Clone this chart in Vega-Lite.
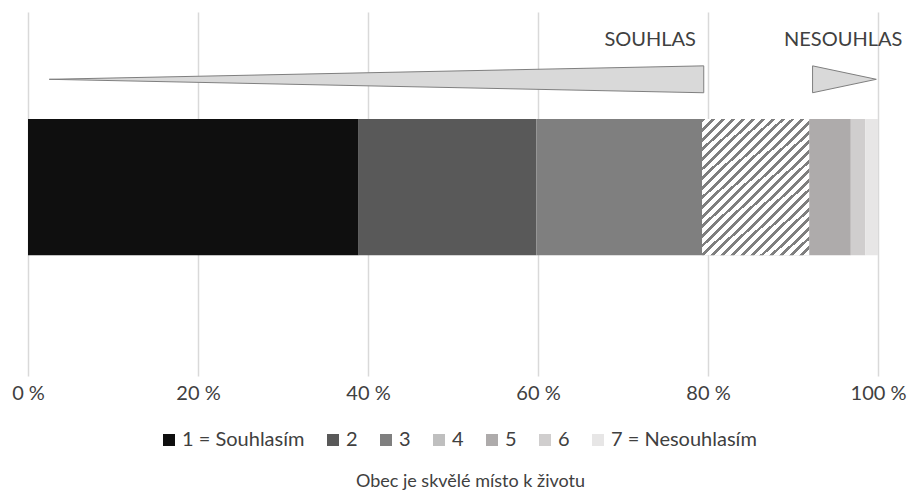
{
  "$schema": "https://vega.github.io/schema/vega-lite/v6.json",
  "width": 850,
  "height": 364,
  "autosize": {"type": "none"},
  "padding": {"left": 28, "top": 12, "right": 31, "bottom": 123},
  "config": {"view": {"stroke": null}, "font": "Lato"},
  "datasets": {
    "answers": [
      {"answer": "1 = Souhlasím", "share": 38.9, "rank": 1},
      {"answer": "2", "share": 20.9, "rank": 2},
      {"answer": "3", "share": 19.5, "rank": 3},
      {"answer": "4", "share": 12.6, "rank": 4},
      {"answer": "5", "share": 4.9, "rank": 5},
      {"answer": "6", "share": 1.7, "rank": 6},
      {"answer": "7 = Nesouhlasím", "share": 1.5, "rank": 7}
    ],
    "arrows": [
      {"arrow": "souhlas", "pct": 2.5, "lo": 17.6, "hi": 17.6},
      {"arrow": "souhlas", "pct": 79.5, "lo": 13.8, "hi": 21.4},
      {"arrow": "nesouhlas", "pct": 92.3, "lo": 13.8, "hi": 21.4},
      {"arrow": "nesouhlas", "pct": 99.8, "lo": 17.6, "hi": 17.6}
    ],
    "labels": [
      {"text": "SOUHLAS", "pct": 73.2},
      {"text": "NESOUHLAS", "pct": 95.9}
    ]
  },
  "layer": [
    {
      "data": {"name": "answers"},
      "transform": [
        {"stack": "share", "groupby": [], "sort": [{"field": "rank"}], "as": ["x0", "x1"]}
      ],
      "mark": {"type": "bar", "orient": "horizontal"},
      "encoding": {
        "x": {
          "field": "x0",
          "type": "quantitative",
          "scale": {"domain": [0, 100], "nice": false},
          "axis": {
            "values": [0, 20, 40, 60, 80, 100],
            "labelExpr": "datum.value + ' %'",
            "domain": false,
            "ticks": false,
            "grid": true,
            "gridColor": "#d9d9d9",
            "gridWidth": 1.5,
            "labelFont": "Lato",
            "labelFontSize": 20,
            "labelColor": "#404040",
            "labelPadding": 7,
            "labelFlush": false,
            "labelOverlap": false,
            "labelBound": false,
            "title": "Obec je skvělé místo k životu",
            "titleFont": "Lato",
            "titleFontSize": 18,
            "titleFontWeight": "normal",
            "titleColor": "#404040",
            "titleX": 442,
            "titleY": 105,
            "titleAlign": "center",
            "titleBaseline": "middle"
          }
        },
        "x2": {"field": "x1"},
        "y": {"datum": 28.8, "type": "quantitative", "scale": {"domain": [0, 100], "reverse": true, "nice": false}, "axis": null},
        "y2": {"datum": 67.3},
        "color": {
          "field": "answer",
          "type": "nominal",
          "scale": {
            "domain": ["1 = Souhlasím", "2", "3", "4", "5", "6", "7 = Nesouhlasím"],
            "range": ["#0f0f0f", "#595959", "#7f7f7f", "#bfbfbf", "#aeabab", "#d0cece", "#e7e6e6"]
          },
          "legend": {
            "orient": "none",
            "legendX": 131,
            "legendY": 418,
            "direction": "horizontal",
            "title": null,
            "symbolType": "square",
            "symbolSize": 144,
            "symbolStrokeWidth": 0,
            "labelFont": "Lato",
            "labelFontSize": 20,
            "labelColor": "#404040",
            "labelOffset": 3,
            "columnPadding": 18
          }
        }
      }
    },
    {
      "data": {"name": "answers"},
      "transform": [
        {"stack": "share", "groupby": [], "sort": [{"field": "rank"}], "as": ["x0", "x1"]},
        {"filter": "datum.rank === 4"}
      ],
      "mark": {
        "type": "bar",
        "orient": "horizontal",
        "color": {
          "gradient": "linear",
          "x1": 0, "y1": 0, "x2": 0.851, "y2": 1.114,
          "stops": [
            {"offset": 0, "color": "#7f7f7f"}, {"offset": 0.016, "color": "#7f7f7f"}, {"offset": 0.016, "color": "#ffffff"}, {"offset": 0.04, "color": "#ffffff"},
            {"offset": 0.04, "color": "#7f7f7f"}, {"offset": 0.056, "color": "#7f7f7f"}, {"offset": 0.056, "color": "#ffffff"}, {"offset": 0.08, "color": "#ffffff"},
            {"offset": 0.08, "color": "#7f7f7f"}, {"offset": 0.096, "color": "#7f7f7f"}, {"offset": 0.096, "color": "#ffffff"}, {"offset": 0.12, "color": "#ffffff"},
            {"offset": 0.12, "color": "#7f7f7f"}, {"offset": 0.136, "color": "#7f7f7f"}, {"offset": 0.136, "color": "#ffffff"}, {"offset": 0.16, "color": "#ffffff"},
            {"offset": 0.16, "color": "#7f7f7f"}, {"offset": 0.176, "color": "#7f7f7f"}, {"offset": 0.176, "color": "#ffffff"}, {"offset": 0.2, "color": "#ffffff"},
            {"offset": 0.2, "color": "#7f7f7f"}, {"offset": 0.216, "color": "#7f7f7f"}, {"offset": 0.216, "color": "#ffffff"}, {"offset": 0.24, "color": "#ffffff"},
            {"offset": 0.24, "color": "#7f7f7f"}, {"offset": 0.256, "color": "#7f7f7f"}, {"offset": 0.256, "color": "#ffffff"}, {"offset": 0.28, "color": "#ffffff"},
            {"offset": 0.28, "color": "#7f7f7f"}, {"offset": 0.296, "color": "#7f7f7f"}, {"offset": 0.296, "color": "#ffffff"}, {"offset": 0.32, "color": "#ffffff"},
            {"offset": 0.32, "color": "#7f7f7f"}, {"offset": 0.336, "color": "#7f7f7f"}, {"offset": 0.336, "color": "#ffffff"}, {"offset": 0.36, "color": "#ffffff"},
            {"offset": 0.36, "color": "#7f7f7f"}, {"offset": 0.376, "color": "#7f7f7f"}, {"offset": 0.376, "color": "#ffffff"}, {"offset": 0.4, "color": "#ffffff"},
            {"offset": 0.4, "color": "#7f7f7f"}, {"offset": 0.416, "color": "#7f7f7f"}, {"offset": 0.416, "color": "#ffffff"}, {"offset": 0.44, "color": "#ffffff"},
            {"offset": 0.44, "color": "#7f7f7f"}, {"offset": 0.456, "color": "#7f7f7f"}, {"offset": 0.456, "color": "#ffffff"}, {"offset": 0.48, "color": "#ffffff"},
            {"offset": 0.48, "color": "#7f7f7f"}, {"offset": 0.496, "color": "#7f7f7f"}, {"offset": 0.496, "color": "#ffffff"}, {"offset": 0.52, "color": "#ffffff"},
            {"offset": 0.52, "color": "#7f7f7f"}, {"offset": 0.536, "color": "#7f7f7f"}, {"offset": 0.536, "color": "#ffffff"}, {"offset": 0.56, "color": "#ffffff"},
            {"offset": 0.56, "color": "#7f7f7f"}, {"offset": 0.576, "color": "#7f7f7f"}, {"offset": 0.576, "color": "#ffffff"}, {"offset": 0.6, "color": "#ffffff"},
            {"offset": 0.6, "color": "#7f7f7f"}, {"offset": 0.616, "color": "#7f7f7f"}, {"offset": 0.616, "color": "#ffffff"}, {"offset": 0.64, "color": "#ffffff"},
            {"offset": 0.64, "color": "#7f7f7f"}, {"offset": 0.656, "color": "#7f7f7f"}, {"offset": 0.656, "color": "#ffffff"}, {"offset": 0.68, "color": "#ffffff"},
            {"offset": 0.68, "color": "#7f7f7f"}, {"offset": 0.696, "color": "#7f7f7f"}, {"offset": 0.696, "color": "#ffffff"}, {"offset": 0.72, "color": "#ffffff"},
            {"offset": 0.72, "color": "#7f7f7f"}, {"offset": 0.736, "color": "#7f7f7f"}, {"offset": 0.736, "color": "#ffffff"}, {"offset": 0.76, "color": "#ffffff"},
            {"offset": 0.76, "color": "#7f7f7f"}, {"offset": 0.776, "color": "#7f7f7f"}, {"offset": 0.776, "color": "#ffffff"}, {"offset": 0.8, "color": "#ffffff"},
            {"offset": 0.8, "color": "#7f7f7f"}, {"offset": 0.816, "color": "#7f7f7f"}, {"offset": 0.816, "color": "#ffffff"}, {"offset": 0.84, "color": "#ffffff"},
            {"offset": 0.84, "color": "#7f7f7f"}, {"offset": 0.856, "color": "#7f7f7f"}, {"offset": 0.856, "color": "#ffffff"}, {"offset": 0.88, "color": "#ffffff"},
            {"offset": 0.88, "color": "#7f7f7f"}, {"offset": 0.896, "color": "#7f7f7f"}, {"offset": 0.896, "color": "#ffffff"}, {"offset": 0.92, "color": "#ffffff"},
            {"offset": 0.92, "color": "#7f7f7f"}, {"offset": 0.936, "color": "#7f7f7f"}, {"offset": 0.936, "color": "#ffffff"}, {"offset": 0.96, "color": "#ffffff"},
            {"offset": 0.96, "color": "#7f7f7f"}, {"offset": 0.976, "color": "#7f7f7f"}, {"offset": 0.976, "color": "#ffffff"}, {"offset": 1, "color": "#ffffff"}
          ]
        }
      },
      "encoding": {
        "x": {"field": "x0", "type": "quantitative"},
        "x2": {"field": "x1"},
        "y": {"datum": 28.8, "type": "quantitative"},
        "y2": {"datum": 67.3}
      }
    },
    {
      "data": {"name": "arrows"},
      "mark": {"type": "area", "fill": "#d9d9d9", "stroke": "#7f7f7f", "strokeWidth": 1, "opacity": 1},
      "encoding": {
        "x": {"field": "pct", "type": "quantitative"},
        "y": {"field": "lo", "type": "quantitative", "stack": null},
        "y2": {"field": "hi"},
        "detail": {"field": "arrow"}
      }
    },
    {
      "data": {"name": "labels"},
      "mark": {"type": "text", "font": "Lato", "fontSize": 20, "color": "#404040", "align": "center", "baseline": "middle"},
      "encoding": {
        "x": {"field": "pct", "type": "quantitative"},
        "y": {"datum": 6.6, "type": "quantitative"},
        "text": {"field": "text"}
      }
    }
  ]
}
